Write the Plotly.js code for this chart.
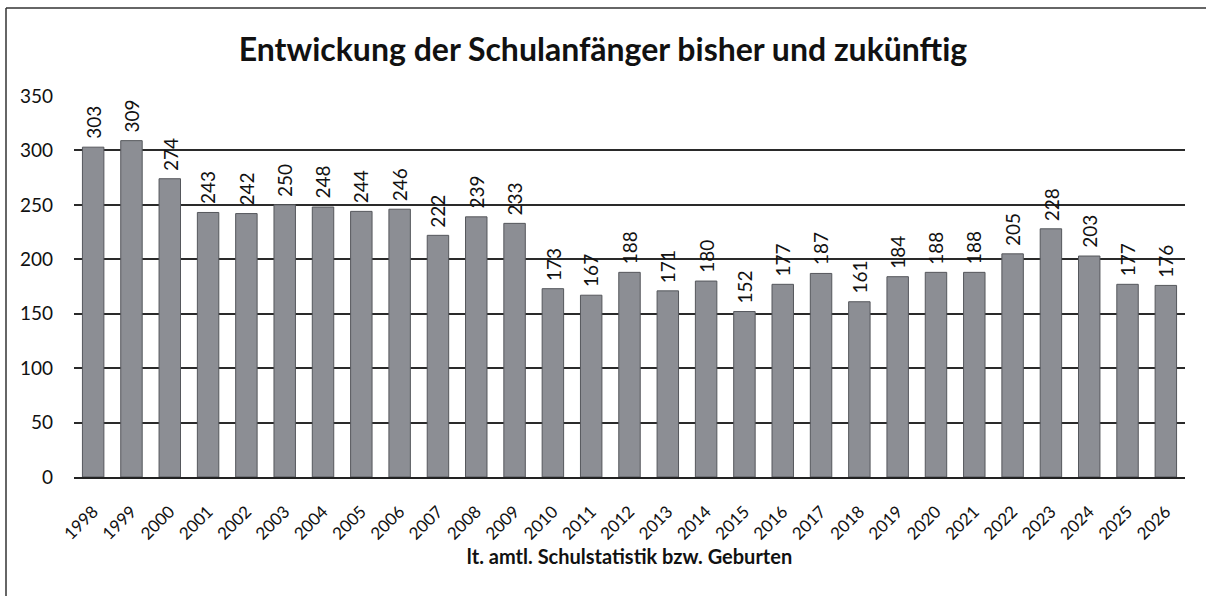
<!DOCTYPE html>
<html><head><meta charset="utf-8">
<script src="https://cdn.plot.ly/plotly-3.0.1.min.js"></script>
<style>html,body{margin:0;padding:0;background:#fff}#c{width:1206px;height:596px}</style>
</head><body><div id="c"></div>
<script>
const years = ['1998','1999','2000','2001','2002','2003','2004','2005','2006','2007','2008','2009','2010','2011','2012','2013','2014','2015','2016','2017','2018','2019','2020','2021','2022','2023','2024','2025','2026'];
const values = [303,309,274,243,242,250,248,244,246,222,239,233,173,167,188,171,180,152,177,187,161,184,188,188,205,228,203,177,176];
const yTicks = [0,50,100,150,200,250,300,350];

const L=74, R=1185, T=96, B=477, W=1206, H=596;
const px = x => (x-L)/(R-L);
const py = y => (B-y)/(B-T);
const FONT = 'Lato, "Open Sans", sans-serif';

const trace = {
  type:'bar', x:years, y:values,
  marker:{color:'#8c8e94', line:{color:'#55575c', width:1}},
  hoverinfo:'none'
};
const annotations = years.map((yr,i)=>({
  x:i, y:values[i], xref:'x', yref:'y', text:String(values[i]), showarrow:false,
  textangle:-90, xanchor:'center', yanchor:'bottom', yshift:6,
  font:{family:FONT, size:19, color:'#111'}
}));
const layout = {
  width:W, height:H,
  margin:{l:L, r:W-R, t:T, b:H-B},
  paper_bgcolor:'#fff', plot_bgcolor:'#fff',
  bargap:0.44,
  showlegend:false,
  title:{text:'<b>Entwickung der Schulanfänger bisher und zukünftig</b>', x:0.5, xanchor:'center', y:1-50/H, yanchor:'middle',
    font:{family:FONT, size:32, color:'#111'}},
  xaxis:{type:'category', range:[-0.5, years.length-0.5], tickangle:-45, tickfont:{family:FONT, size:17, color:'#111'},
    showline:true, linecolor:'#222', linewidth:2, ticks:'', showgrid:false, ticklabelstandoff:16,
    title:{text:'<b>lt. amtl. Schulstatistik bzw. Geburten</b>', standoff:6, font:{family:FONT, size:20, color:'#111'}}},
  yaxis:{range:[0,350], tickvals:yTicks, ticktext:yTicks.map(String), showgrid:true, gridcolor:'#2a2a2a', gridwidth:2,
    zeroline:false, showline:false, ticks:'', ticklabelstandoff:20,
    tickfont:{family:FONT, size:19, color:'#111'}},
  annotations:annotations,
  shapes:[
    {type:'line', xref:'paper', yref:'paper', x0:px(6), x1:px(6), y0:py(8), y1:py(H+5), line:{color:'#333', width:1.5}},
    {type:'line', xref:'paper', yref:'paper', x0:px(6), x1:px(W+5), y0:py(8), y1:py(8), line:{color:'#333', width:1.5}}
  ]
};
Plotly.newPlot('c',[trace],layout,{displayModeBar:false, staticPlot:true});
</script></body></html>
